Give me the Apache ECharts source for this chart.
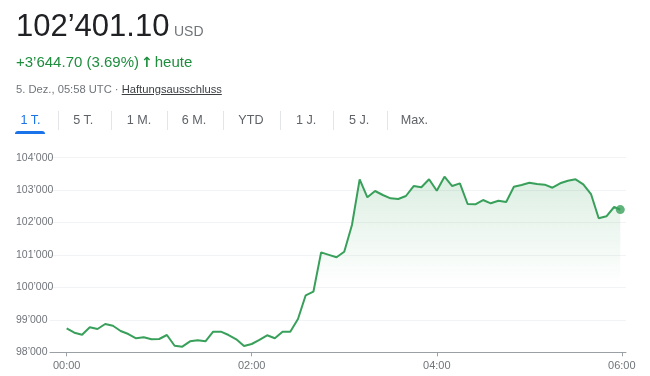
<!DOCTYPE html>
<html>
<head>
<meta charset="utf-8">
<script src="https://cdn.jsdelivr.net/npm/echarts@6/dist/echarts.min.js"></script>
<style>
  html, body { margin: 0; padding: 0; background: #fff; }
  #wrap { position: relative; width: 650px; height: 376px; overflow: hidden; font-family: "Liberation Sans", Arial, sans-serif; }
  #chart { position: absolute; left: 0; top: 0; width: 650px; height: 376px; }
  .t { position: absolute; white-space: nowrap; line-height: 1; }
  .tab { position: absolute; top: 113.5px; font-size: 12.6px; line-height: 1; color: #5f6368; white-space: nowrap; }
  .sep { position: absolute; top: 111px; width: 1px; height: 19px; background: #e3e5e8; }
</style>
</head>
<body>
<div id="wrap">
  <div id="chart"></div>
  <div class="t" style="left:16px;top:9.8px;font-size:31px;color:#202124;">102’401.10</div>
  <div class="t" style="left:174px;top:23.5px;font-size:14px;color:#70757a;">USD</div>
  <div class="t" style="left:16px;top:54px;font-size:15px;color:#1e8e3e;">+3’644.70 (3.69%)<span style="font-family:'DejaVu Sans';font-weight:bold;font-size:14px;margin:0 2px 0 2px;">↑</span>heute</div>
  <div class="t" style="left:16px;top:83.8px;font-size:11.2px;color:#70757a;">5. Dez., 05:58 UTC · <span style="color:#3c4043;text-decoration:underline;">Haftungsausschluss</span></div>
  <div class="tab" style="left:20.5px;color:#1a73e8;">1 T.</div>
  <div class="tab" style="left:73.3px;">5 T.</div>
  <div class="tab" style="left:126.7px;">1 M.</div>
  <div class="tab" style="left:181.7px;">6 M.</div>
  <div class="tab" style="left:238.3px;">YTD</div>
  <div class="tab" style="left:296px;">1 J.</div>
  <div class="tab" style="left:349px;">5 J.</div>
  <div class="tab" style="left:400.7px;">Max.</div>
  <div class="sep" style="left:58px;"></div>
  <div class="sep" style="left:111px;"></div>
  <div class="sep" style="left:166.5px;"></div>
  <div class="sep" style="left:222.5px;"></div>
  <div class="sep" style="left:280px;"></div>
  <div class="sep" style="left:333px;"></div>
  <div class="sep" style="left:386.5px;"></div>
  <div style="position:absolute;left:15px;top:131px;width:30px;height:3px;background:#1a73e8;border-radius:3px 3px 0 0;"></div>
</div>
<script>
// minutes since 00:00 UTC
var minutes = [0, 5, 10, 15, 20, 25, 30, 35, 40, 45, 50, 55, 60, 65, 70, 75, 80, 85, 90, 95,
    100, 105, 110, 115, 120, 125, 130, 135, 140, 145, 150, 155, 160, 165, 170, 175, 180, 185, 190, 195,
    200, 205, 210, 215, 220, 225, 230, 235, 240, 245, 250, 255, 260, 265, 270, 275, 280, 285, 290, 295,
    300, 305, 310, 315, 320, 325, 330, 335, 340, 345, 350, 355, 359];
var prices = [98740, 98604, 98543, 98771, 98718, 98872, 98820, 98657, 98564, 98432, 98462, 98401, 98410, 98533, 98203, 98173, 98339, 98370, 98339, 98635,
    98635, 98533, 98401, 98194, 98256, 98380, 98524, 98432, 98635, 98635, 99027, 99757, 99868, 101080, 101005, 100929, 101102, 101925, 103333, 102779,
    102973, 102850, 102748, 102726, 102819, 103127, 103087, 103334, 102982, 103414, 103127, 103210, 102572, 102563, 102695, 102594, 102674, 102634, 103106, 103158,
    103229, 103189, 103168, 103075, 103210, 103290, 103334, 103180, 102880, 102131, 102193, 102480, 102401.1];
var timeTicks = [0, 120, 240, 360];

var lineData = minutes.map(function (m, i) { return [m, prices[i]]; });
var last = lineData[lineData.length - 1];

function fmtThousands(v) {
    return String(v).replace(/\B(?=(\d{3})+(?!\d))/g, '’');
}
function fmtTime(m) {
    var h = Math.floor(m / 60), mm = m % 60;
    return (h < 10 ? '0' : '') + h + ':' + (mm < 10 ? '0' : '') + mm;
}

var chart = echarts.init(document.getElementById('chart'));
var option = {
    animation: false,
    grid: {
        left: 50,
        right: 24,
        top: 157.7,
        bottom: 23.7
    },
    xAxis: {
        type: 'value',
        min: -10.8,
        max: 362.7,
        axisLine: { lineStyle: { color: '#9aa0a6', width: 1 } },
        axisTick: {
            customValues: timeTicks,
            length: 4,
            lineStyle: { color: '#9aa0a6' }
        },
        axisLabel: {
            customValues: timeTicks,
            formatter: fmtTime,
            color: '#70757a',
            fontSize: 11,
            fontFamily: 'Liberation Sans, Arial, sans-serif',
            margin: 8
        },
        splitLine: { show: false }
    },
    yAxis: {
        type: 'value',
        min: 98000,
        max: 104000,
        interval: 1000,
        axisLine: { show: false },
        axisTick: { show: false },
        axisLabel: {
            formatter: fmtThousands,
            color: '#70757a',
            fontSize: 10.5,
            fontFamily: 'Liberation Sans, Arial, sans-serif',
            align: 'left',
            margin: 34
        },
        splitLine: { lineStyle: { color: '#f1f3f4', width: 1 } }
    },
    series: [
        {
            type: 'line',
            data: lineData,
            showSymbol: false,
            symbol: 'none',
            lineStyle: { color: '#38a05a', width: 2 },
            areaStyle: {
                color: new echarts.graphic.LinearGradient(0, 0, 0, 1, [
                    { offset: 0, color: 'rgba(56,160,90,0.25)' },
                    { offset: 0.62, color: 'rgba(56,160,90,0)' },
                    { offset: 1, color: 'rgba(56,160,90,0)' }
                ])
            },
            z: 3
        },
        {
            type: 'scatter',
            data: [last],
            symbol: 'circle',
            symbolSize: 9,
            itemStyle: { color: '#38a05a' },
            z: 4
        }
    ]
};
chart.setOption(option);
window.addEventListener('resize', function () {
    chart.resize();
});
</script>
</body>
</html>
